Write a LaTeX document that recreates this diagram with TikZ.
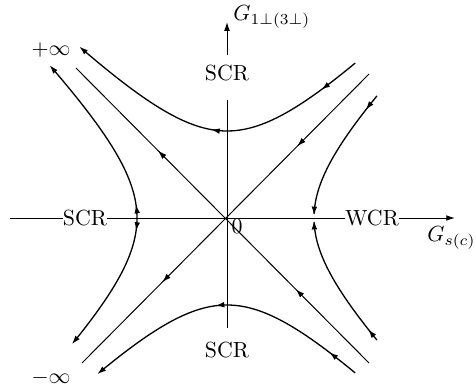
\documentclass[tikz,border=0pt]{standalone}
\usetikzlibrary{decorations.markings,arrows.meta}
\begin{document}
\begin{tikzpicture}[x=0.457pt,y=0.457pt,
  tip/.tip={Latex[length=4pt,width=2.6pt]},
  flow/.style={line width=0.6pt},
  axisline/.style={line width=0.45pt},
  lab/.style={inner sep=0pt,font=\normalsize},
  marked/.style 2 args={postaction={decorate},decoration={markings,
     mark=at position #1 with {\arrow{tip}},
     mark=at position #2 with {\arrow{tip}}}},
  marked1/.style={postaction={decorate},decoration={markings,
     mark=at position #1 with {\arrow{tip}}}}]
\useasboundingbox (-227,-171) rectangle (249,218);

% axes
\coordinate (hl) at (-217,0);
\coordinate (hr) at (228,0);
\coordinate (vt) at (0,118);
\coordinate (vb) at (0,-110);
\coordinate (at) at (0,163);
\coordinate (ah) at (0,196);
\node[lab] (scrl) at (-142,0) {SCR};
\node[lab] (wcr) at (145,0) {WCR};
\node[lab] (scrt) at (0,145) {SCR};
\node[lab] (scrb) at (0,-132) {SCR};
\node[lab,anchor=west] (gy) at (6,201) {$G_{1\perp(3\perp)}$};
\node[lab,anchor=west] (gx) at (200,-20) {$G_{s(c)}$};
\node[lab] (zero) at (10,-8) {$0$};
\node[lab] (pinf) at (-176,168) {$+\infty$};
\node[lab] (minf) at (-176,-160) {$-\infty$};

\draw[axisline] (hl) -- (scrl.west);
\draw[axisline] (scrl.east) -- (wcr.west);
\draw[axisline,-{Latex[length=4pt,width=2.6pt]}] (wcr.east) -- (hr);
\draw[axisline] (vb) -- (vt);
\draw[axisline,-{Latex[length=4pt,width=2.6pt]}] (at) -- (ah);
\fill (0,0) circle (1.5);

% diagonals
\coordinate (se) at (142,-145);
\coordinate (nw) at (-151,150);
\coordinate (ne) at (142,144);
\coordinate (sw) at (-145,-145);
\draw[axisline,marked={0.25}{0.72}] (se) -- (nw);
\draw[axisline,marked={0.25}{0.72}] (ne) -- (sw);

% top hyperbola (right to left)
\draw[flow,-tip,marked={0.134}{0.51}] plot[domain=-1.18:1.30,samples=80,variable=\t] ({-87*sinh(\t)},{87*cosh(\t)});
% bottom hyperbola (right to left)
\draw[flow,-tip,marked={0.111}{0.535}] plot[domain=-1.18:1.19,samples=80,variable=\t] ({-87*sinh(\t)},{-87*cosh(\t)});
% left hyperbola (outward from vertex)
\draw[flow,-tip,marked1=0.075] plot[domain=0:1.30,samples=60,variable=\t] ({-90*cosh(\t)},{90*sinh(\t)});
\draw[flow,-tip,marked1=0.09] plot[domain=0:-1.14,samples=60,variable=\t] ({-90*cosh(\t)},{90*sinh(\t)});
% right hyperbola (inward to vertex)
\draw[flow,-tip,marked1=0.13] plot[domain=1.14:0.03,samples=60,variable=\t] ({87*cosh(\t)},{87*sinh(\t)});
\draw[flow,-tip,marked1=0.1] plot[domain=-1.14:-0.03,samples=60,variable=\t] ({87*cosh(\t)},{87*sinh(\t)});
\end{tikzpicture}
\end{document}
